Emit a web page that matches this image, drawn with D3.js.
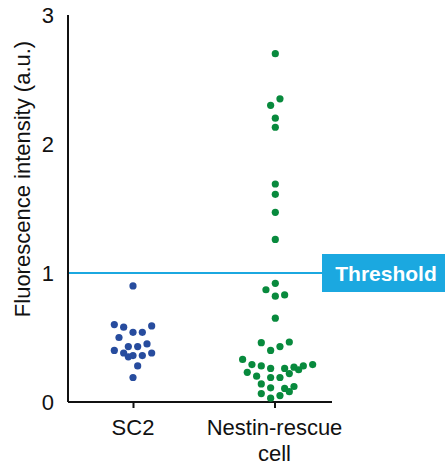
<!DOCTYPE html>
<html><head><meta charset="utf-8">
<script src="https://cdn.jsdelivr.net/npm/d3@7"></script>
<style>body{margin:0;background:#fff}svg{display:block}</style>
</head><body>
<script>
const categories = ["SC2", "Nestin-rescue\ncell"];
const sc2Values = [0.90,0.60,0.58,0.54,0.54,0.59,0.50,0.43,0.43,0.45,0.40,0.38,0.35,0.36,0.36,0.38,0.28,0.19];
const sc2Slots  = [0,-4,-2,0,2,4,-3,-1,1,3,-4,-2,-1,0,2,4,1,0];
const nestinValues = [2.70,2.35,2.30,2.20,2.13,1.69,1.61,1.47,1.26,0.92,0.87,0.82,0.83,0.65,
  0.46,0.40,0.43,0.465,0.33,0.29,0.28,0.26,0.26,0.22,0.27,0.25,0.28,0.29,0.23,0.20,0.19,0.19,0.14,0.11,0.105,0.08,0.12,0.065,0.05,0.03];
const nestinSlots = [0,1,-1,0,0,0,0,0,0,0,-2,0,2,0,
  -3,-1,1,3,-7,-5,-3,-1,2,3,4,5,6,8,-6,-4,-1,1,-3,-1,2,3,4,-3,1,-1];
const yTicks = [0,1,2,3];
const threshold = 1;
const thresholdLabel = "Threshold";
const yTitle = "Fluorescence intensity (a.u.)";

const W = 445, H = 468;
const svg = d3.select("body").append("svg").attr("width", W).attr("height", H);
const font = "Liberation Sans, Arial, sans-serif";
const y = d3.scaleLinear().domain([0,3]).range([402,15]);
const x = d3.scalePoint().domain(categories).range([133,274.5]);
const axisX0 = 68, axisX1 = 332;
const slotW = 4.67, r = 3.6;

// threshold line and box
svg.append("line").attr("x1", axisX0).attr("x2", 322).attr("y1", y(threshold)).attr("y2", y(threshold))
  .attr("stroke", "#1ba8e0").attr("stroke-width", 2);
svg.append("rect").attr("x", 322).attr("y", y(threshold)-19).attr("width", 123).attr("height", 38).attr("fill", "#1ba8e0");
svg.append("text").attr("x", 386).attr("y", y(threshold)+7.5).attr("text-anchor","middle")
  .attr("font-family", font).attr("font-weight","bold").attr("font-size", 21).attr("fill","#fff").text(thresholdLabel);

// axes
const yAxis = svg.append("g").attr("transform", `translate(${axisX0},0)`)
  .call(d3.axisLeft(y).tickValues(yTicks).tickSize(0).tickPadding(14).tickFormat(d3.format("d")));
yAxis.select(".domain").attr("stroke","#111").attr("stroke-width",2).attr("d", `M0,${y(0)}V${y(3)}`);
yAxis.selectAll("text").attr("font-family", font).attr("font-size", 22).attr("fill","#111");

const xAxis = svg.append("g").attr("transform", `translate(0,${y(0)})`)
  .call(d3.axisBottom(x).tickSize(6).tickFormat(""));
xAxis.select(".domain").attr("stroke","#111").attr("stroke-width",2).attr("d", `M${axisX0},0H${axisX1}`);
xAxis.selectAll(".tick line").attr("stroke","#111").attr("stroke-width",2);
categories.forEach(c => {
  const lines = c.split("\n");
  const t = svg.append("text").attr("text-anchor","middle").attr("font-family", font).attr("font-size", 22).attr("fill","#111");
  lines.forEach((l,i) => t.append("tspan").attr("x", x(c)).attr("y", 435 + i*26).text(l));
});

svg.append("text").attr("transform", `translate(30,179) rotate(-90)`).attr("text-anchor","middle")
  .attr("font-family", font).attr("font-size", 22).attr("fill","#111").text(yTitle);

// dots
const sc2 = sc2Values.map((v,i) => ({v, s: sc2Slots[i]}));
const nes = nestinValues.map((v,i) => ({v, s: nestinSlots[i]}));
svg.append("g").selectAll("circle").data(sc2).join("circle")
  .attr("cx", d => x(categories[0]) + d.s*slotW).attr("cy", d => y(d.v)).attr("r", r).attr("fill", "#274c9e");
svg.append("g").selectAll("circle").data(nes).join("circle")
  .attr("cx", d => x(categories[1]) + 0.8 + d.s*slotW).attr("cy", d => y(d.v)).attr("r", r).attr("fill", "#088a3d");
</script>
</body></html>
